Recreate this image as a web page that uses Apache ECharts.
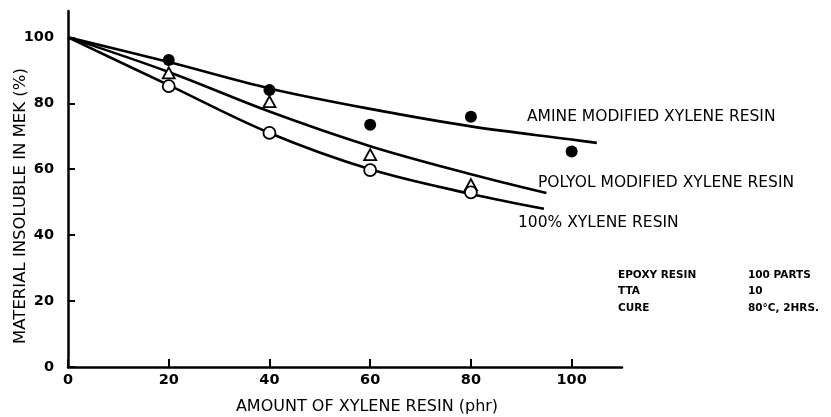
<!DOCTYPE html>
<html>
<head>
<meta charset="utf-8">
<script src="https://cdn.jsdelivr.net/npm/echarts@6/dist/echarts.min.js"></script>
<style>html,body{margin:0;padding:0;background:#fff}#c{width:831px;height:417px}</style>
</head>
<body>
<div id="c"></div>
<script>
// Measured points
const amineX = [20, 40, 60, 80, 100];
const amineY = [93.1, 84, 73.5, 75.9, 65.4];
const polyolX = [20, 40, 60, 80];
const polyolY = [89.2, 80.5, 64.4, 55.3];
const pureX = [20, 40, 60, 80];
const pureY = [85.2, 71, 59.7, 53];
// Fitted curves as drawn
const amineFitX = [0, 20, 40, 60, 80, 100, 105];
const amineFitY = [100, 92.5, 84.5, 78.3, 73, 69, 68];
const polyolFitX = [0, 20, 40, 60, 80, 95];
const polyolFitY = [100, 89.5, 77.5, 67, 58.5, 52.8];
const pureFitX = [0, 20, 40, 60, 80, 94.5];
const pureFitY = [100, 85.5, 71, 60, 52.5, 48];
const xTicks = [0, 20, 40, 60, 80, 100];
const yTicks = [0, 20, 40, 60, 80, 100];
const curveNames = ['AMINE MODIFIED XYLENE RESIN', 'POLYOL MODIFIED XYLENE RESIN', '100% XYLENE RESIN'];
const tableRows = [['EPOXY RESIN', '100 PARTS'], ['TTA', '10'], ['CURE', '80°C, 2HRS.']];

const zip = (a, b) => a.map((v, i) => [v, b[i]]);
const FONT = 'DejaVu Sans';
const chart = echarts.init(document.getElementById('c'), null, {renderer: 'canvas'});

const lineSeries = (xs, ys) => ({
  type: 'line', data: zip(xs, ys), smooth: 0.35, symbol: 'none',
  lineStyle: {color: '#000', width: 2.6}, z: 2, silent: true
});

const graphics = [];
const labelPos = [[527, 117], [538, 183], [518, 223]];
curveNames.forEach((t, i) => graphics.push({
  type: 'text', x: labelPos[i][0], y: labelPos[i][1],
  style: {text: t, font: '15.5px "' + FONT + '"', fill: '#000', verticalAlign: 'middle'}
}));
tableRows.forEach((r, i) => {
  graphics.push({type: 'text', x: 618, y: 275 + i * 16.5,
    style: {text: r[0], font: 'bold 10.5px "' + FONT + '"', fill: '#000', verticalAlign: 'middle'}});
  graphics.push({type: 'text', x: 748, y: 275 + i * 16.5,
    style: {text: r[1], font: 'bold 10.5px "' + FONT + '"', fill: '#000', verticalAlign: 'middle'}});
});
graphics.push({
  type: 'text', x: 21, y: 206, rotation: Math.PI / 2,
  style: {text: 'MATERIAL INSOLUBLE IN MEK (%)', font: '16.5px "' + FONT + '"', fill: '#000',
    align: 'center', verticalAlign: 'middle'}
});
graphics.push({
  type: 'text', x: 367, y: 407,
  style: {text: 'AMOUNT OF XYLENE RESIN (phr)', font: '16px "' + FONT + '"', fill: '#000',
    align: 'center', verticalAlign: 'middle'}
});

chart.setOption({
  animation: false,
  backgroundColor: '#fff',
  grid: {left: 68, right: 209, top: 11, bottom: 50},
  xAxis: {
    type: 'value', min: 0, max: 110,
    splitLine: {show: false},
    axisLine: {lineStyle: {color: '#000', width: 2.5}},
    axisTick: {inside: true, length: 8, customValues: xTicks, lineStyle: {color: '#000', width: 2}},
    axisLabel: {customValues: xTicks, color: '#000', fontFamily: FONT, fontSize: 14.5, fontWeight: 'bold', margin: 6}
  },
  yAxis: {
    type: 'value', min: 0, max: 108,
    splitLine: {show: false},
    axisLine: {lineStyle: {color: '#000', width: 2.5}},
    axisTick: {inside: true, length: 7, customValues: yTicks, lineStyle: {color: '#000', width: 2}},
    axisLabel: {customValues: yTicks, color: '#000', fontFamily: FONT, fontSize: 14.5, fontWeight: 'bold', margin: 14}
  },
  series: [
    lineSeries(amineFitX, amineFitY),
    lineSeries(polyolFitX, polyolFitY),
    lineSeries(pureFitX, pureFitY),
    {type: 'scatter', data: zip(amineX, amineY), symbol: 'circle', symbolSize: 12,
      itemStyle: {color: '#000', opacity: 1}, z: 5},
    {type: 'scatter', data: zip(polyolX, polyolY), symbol: 'triangle', symbolSize: [12, 11],
      itemStyle: {color: '#fff', borderColor: '#000', borderWidth: 1.8, opacity: 1}, z: 5},
    {type: 'scatter', data: zip(pureX, pureY), symbol: 'circle', symbolSize: 12,
      itemStyle: {color: '#fff', borderColor: '#000', borderWidth: 1.8, opacity: 1}, z: 5}
  ],
  graphic: graphics
});
</script>
</body>
</html>
